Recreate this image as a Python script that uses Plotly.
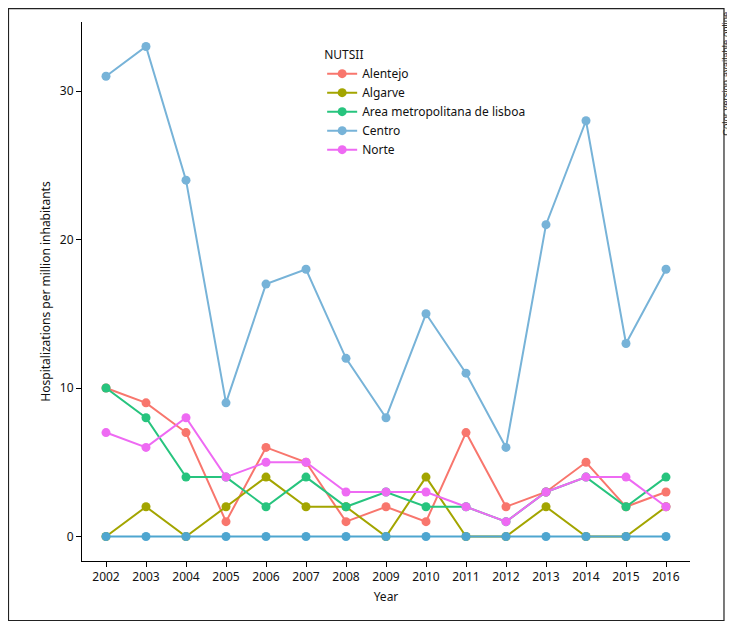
import plotly.graph_objects as go

years = list(range(2002, 2017))
alentejo = [10, 9, 7, 1, 6, 5, 1, 2, 1, 7, 2, 3, 5, 2, 3]
algarve = [0, 2, 0, 2, 4, 2, 2, 0, 4, 0, 0, 2, 0, 0, 2]
lisboa = [10, 8, 4, 4, 2, 4, 2, 3, 2, 2, 1, 3, 4, 2, 4]
centro = [31, 33, 24, 9, 17, 18, 12, 8, 15, 11, 6, 21, 28, 13, 18]
norte = [7, 6, 8, 4, 5, 5, 3, 3, 3, 2, 1, 3, 4, 4, 2]
other = [0] * 15

series = [
    ("Alentejo", alentejo, "#F8766D", True),
    ("Algarve", algarve, "#A3A500", True),
    ("Area metropolitana de lisboa", lisboa, "#27C47E", True),
    ("Centro", centro, "#77B3D8", True),
    ("Norte", norte, "#EE6AF3", True),
    ("Other", other, "#4EA6D0", False),
]

fig = go.Figure()
for name, vals, col, leg in series:
    fig.add_trace(go.Scatter(
        x=years, y=vals, name=name, mode="lines+markers",
        line=dict(color=col, width=2), marker=dict(color=col, size=9),
        showlegend=leg,
    ))

font = "Noto Sans"
fig.update_layout(
    width=727, height=613,
    margin=dict(l=74, r=45, t=14, b=60),
    paper_bgcolor="white", plot_bgcolor="white",
    font=dict(family=font, size=12, color="#111"),
    legend=dict(title=dict(text="NUTSII", font=dict(size=12)),
                x=0.395, y=0.96, xanchor="left", yanchor="top",
                bgcolor="rgba(0,0,0,0)", font=dict(size=12),
                tracegroupgap=0, itemwidth=30),
    xaxis=dict(range=[2001.4, 2016.6], tickmode="array", tickvals=years,
               ticktext=[str(y) for y in years],
               showgrid=False, zeroline=False, showline=True, linecolor="black",
               linewidth=1, ticks="outside", ticklen=5, tickcolor="black",
               title=dict(text="Year", font=dict(size=12), standoff=8)),
    yaxis=dict(range=[-1.65, 34.65], tickvals=[0, 10, 20, 30],
               showgrid=False, zeroline=False, showline=True, linecolor="black",
               linewidth=1, ticks="outside", ticklen=5, tickcolor="black",
               title=dict(text="Hospitalizations per million inhabitants",
                          font=dict(size=12), standoff=6)),
    shapes=[dict(type="rect", xref="paper", yref="paper",
                 x0=-0.1209, x1=1.0559, y0=-0.1104, y1=1.0250,
                 line=dict(color="#222", width=1.2))],
    annotations=[dict(text="Color version available online", xref="paper", yref="paper",
                      x=1.0580, y=1.0230, xanchor="center", yanchor="top",
                      textangle=-90, showarrow=False,
                      font=dict(family="Liberation Sans", size=9.5, color="#222"))],
)

fig.write_html("out.html")
